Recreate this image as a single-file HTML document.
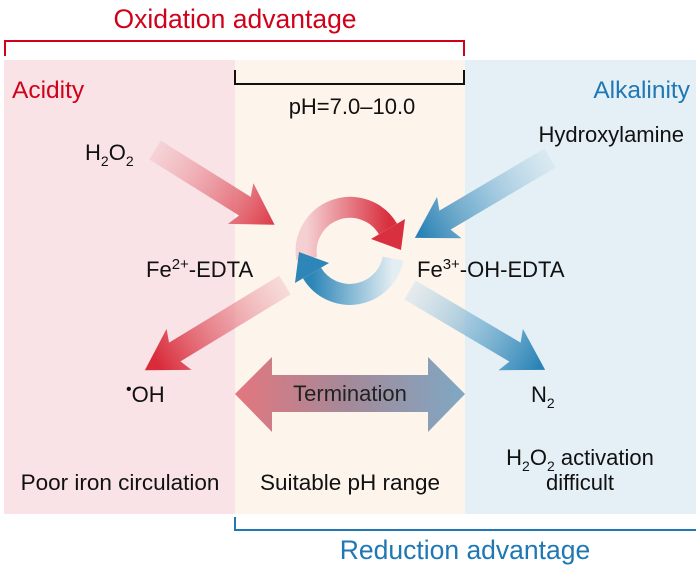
<!DOCTYPE html>
<html><head><style>
body{margin:0;background:#fff;}
svg text{font-family:"Liberation Sans",Arial,sans-serif;}
</style></head><body>
<svg width="700" height="570" viewBox="0 0 700 570" xmlns="http://www.w3.org/2000/svg">
<defs>
<linearGradient id="gr" gradientUnits="userSpaceOnUse" x1="0" y1="0" x2="150" y2="0"><stop offset="0" stop-color="#f2c3c8" stop-opacity="0.5"/><stop offset="1" stop-color="#d92b3a"/></linearGradient>
<linearGradient id="gb" gradientUnits="userSpaceOnUse" x1="0" y1="0" x2="150" y2="0"><stop offset="0" stop-color="#cfe3ee" stop-opacity="0.5"/><stop offset="1" stop-color="#2a83b6"/></linearGradient>
<linearGradient id="gd" x1="0" y1="0" x2="1" y2="0"><stop offset="0" stop-color="#e4767e"/><stop offset="0.5" stop-color="#a38a9a"/><stop offset="1" stop-color="#7fa8c4"/></linearGradient>
<linearGradient id="cr" x1="0" y1="0" x2="1" y2="0"><stop offset="0" stop-color="#f5d0d3"/><stop offset="1" stop-color="#d9303f"/></linearGradient>
<linearGradient id="cb" x1="1" y1="0" x2="0" y2="0"><stop offset="0" stop-color="#e3eef3"/><stop offset="1" stop-color="#2e86b8"/></linearGradient>
</defs>
<rect x="4" y="60" width="231" height="454" fill="#f9e3e6"/>
<rect x="235" y="60" width="230" height="454" fill="#fdf4ec"/>
<rect x="465" y="60" width="231" height="454" fill="#e5f0f6"/>
<path d="M5,56 V41 H464 V56" fill="none" stroke="#d0021b" stroke-width="2"/>
<path d="M235,70 V84 H464 V70" fill="none" stroke="#111" stroke-width="2"/>
<path d="M235,517 V530 H696" fill="none" stroke="#1f78b4" stroke-width="2"/>
<text x="235" y="28" font-size="26.5" fill="#d0021b" text-anchor="middle">Oxidation advantage</text>
<text x="465" y="559" font-size="26.5" fill="#1f78b4" text-anchor="middle">Reduction advantage</text>
<text x="12" y="98" font-size="24.5" fill="#d0021b">Acidity</text>
<text x="690" y="98" font-size="24.5" fill="#1f78b4" text-anchor="end">Alkalinity</text>
<text x="352" y="114" font-size="22" fill="#111" text-anchor="middle">pH=7.0–10.0</text>
<text x="85" y="160" font-size="22" fill="#111">H<tspan font-size="14" dy="6">2</tspan><tspan dy="-6">O</tspan><tspan font-size="14" dy="6">2</tspan></text>
<text x="684" y="142" font-size="22" fill="#111" text-anchor="end">Hydroxylamine</text>
<text x="146" y="277" font-size="22" fill="#111">Fe<tspan font-size="15" dy="-8">2+</tspan><tspan dy="8">-EDTA</tspan></text>
<text x="417" y="277" font-size="22" fill="#111">Fe<tspan font-size="15" dy="-8">3+</tspan><tspan dy="8">-OH-EDTA</tspan></text>
<text x="126" y="402" font-size="22" fill="#111"><tspan font-size="16" dy="-8">•</tspan><tspan dy="8">OH</tspan></text>
<text x="531" y="402" font-size="22" fill="#111">N<tspan font-size="14" dy="6">2</tspan></text>
<text x="120" y="490" font-size="22.5" fill="#111" text-anchor="middle">Poor iron circulation</text>
<text x="350" y="490" font-size="22.5" fill="#111" text-anchor="middle">Suitable pH range</text>
<text x="580" y="465" font-size="22" fill="#111" text-anchor="middle">H<tspan font-size="14" dy="6">2</tspan><tspan dy="-6">O</tspan><tspan font-size="14" dy="6">2</tspan><tspan dy="-6"> activation</tspan></text>
<text x="580" y="490" font-size="22" fill="#111" text-anchor="middle">difficult</text>
<g transform="translate(155,150) rotate(32)"><polygon points="0,-11 106,-11 101,-24 141,0 101,24 106,11 0,11" fill="url(#gr)"/></g>
<g transform="translate(550,158) rotate(149.4)"><polygon points="0,-11 122,-11 117,-24 157,0 117,24 122,11 0,11" fill="url(#gb)"/></g>
<g transform="translate(285,285) rotate(148.7)"><polygon points="0,-11 129,-11 124,-24 164,0 124,24 129,11 0,11" fill="url(#gr)"/></g>
<g transform="translate(410,290) rotate(30.6)"><polygon points="0,-11 122,-11 117,-24 157,0 117,24 122,11 0,11" fill="url(#gb)"/></g>
<polygon points="235,394 272,357 272,375 428,375 428,357 465,394 428,432 428,412 272,412 272,432" fill="url(#gd)"/>
<text x="350" y="401" font-size="22" fill="#222" text-anchor="middle">Termination</text>
<path d="M306.7,258.6 A44,44 0 0 1 388,229" fill="none" stroke="url(#cr)" stroke-width="21"/>
<polygon points="405,219 371,239 401,250" fill="#d9303f"/>
<path d="M393,258.6 A44,44 0 0 1 312,273" fill="none" stroke="url(#cb)" stroke-width="21"/>
<polygon points="295,283 329,263 299,252" fill="#2e86b8"/>
</svg>
</body></html>
